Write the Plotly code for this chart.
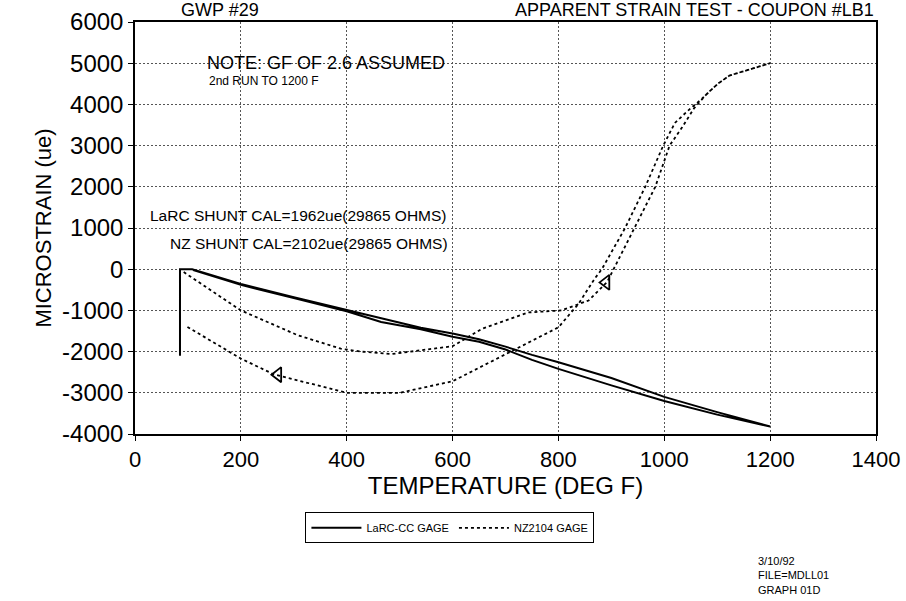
import plotly.graph_objects as go

# LaRC-CC gage: initial offset, heat-up to 1200 F, then cool-down
larc_temp = [85, 85, 108, 200, 300, 400, 465, 540, 600, 650, 700, 750, 800, 900, 1000, 1100, 1200,
             1100, 1000, 900, 800, 750, 700, 650, 600, 540, 465, 400, 300, 200, 110]
larc_strain = [-2100, 0, 0, -360, -680, -990, -1200, -1420, -1560, -1700, -1880, -2080, -2260, -2640, -3100, -3470, -3820,
               -3530, -3200, -2820, -2420, -2200, -1950, -1760, -1640, -1460, -1280, -1020, -700, -380, -20]

# NZ2104 gage: heat-up branch then cool-down branch
nz_temp = [92, 200, 307, 389, 427, 484, 600, 655, 743, 806, 831, 857, 892, 943, 983, 1010, 1034, 1056, 1080, 1101, 1123, 1200,
           1123, 1101, 1072, 1045, 1020, 998, 964, 926, 882, 869, 838, 800, 711, 600, 500, 400, 262, 200, 95]
nz_strain = [-70, -1000, -1600, -1930, -2000, -2060, -1870, -1450, -1050, -1000, -880, -760, -310, 1000, 2000, 3000, 3450, 3900, 4250, 4500, 4700, 5000,
             4700, 4500, 4150, 3850, 3550, 3000, 2000, 1000, 0, -220, -840, -1410, -2000, -2720, -3000, -3000, -2550, -2170, -1370]

# direction arrows on the NZ curve
arrow_temp = [270, 890]
arrow_strain = [-2560, -320]

y_ticks = [-4000, -3000, -2000, -1000, 0, 1000, 2000, 3000, 4000, 5000, 6000]
y_tick_labels = ["-4000", "-3000", "-2000", "-1000", "0", "1000", "2000", "3000", "4000", "5000", "6000"]

notes = [
    ("NOTE: GF OF 2.6 ASSUMED", 132, 5000, 18),
    ("2nd RUN TO 1200 F", 136, 4560, 12),
    ("LaRC SHUNT CAL=1962ue(29865 OHMS)", 25, 1310, 15.5),
    ("NZ SHUNT CAL=2102ue(29865 OHMS)", 62, 630, 15.5),
]

FONT = "Liberation Sans, Arial, sans-serif"

fig = go.Figure()

fig.add_trace(go.Scatter(
    x=larc_temp, y=larc_strain, mode="lines", name="LaRC-CC GAGE",
    line=dict(color="black", width=2),
))
fig.add_trace(go.Scatter(
    x=nz_temp, y=nz_strain, mode="lines", name="NZ2104 GAGE",
    line=dict(color="black", width=1.8, dash="3px,3px"),
))
fig.add_trace(go.Scatter(
    x=arrow_temp, y=arrow_strain, mode="markers", showlegend=False,
    marker=dict(symbol="triangle-left-open", size=13, color="black", line=dict(width=1.8)),
))

for text, x, y, size in notes:
    fig.add_annotation(x=x, y=y, text=text, showarrow=False, xanchor="left",
                       font=dict(size=size, color="black", family=FONT))

fig.add_annotation(x=0.06, y=1.0, xref="paper", yref="paper", yanchor="bottom", xanchor="left",
                   text="GWP #29", showarrow=False, font=dict(size=18, color="black", family=FONT))
fig.add_annotation(x=1.0, y=1.0, xref="paper", yref="paper", yanchor="bottom", xanchor="right",
                   text="APPARENT STRAIN TEST - COUPON #LB1", showarrow=False,
                   font=dict(size=18, color="black", family=FONT))
fig.add_annotation(x=0.838, y=-0.29, xref="paper", yref="paper", xanchor="left", yanchor="top",
                   align="left", showarrow=False,
                   text="3/10/92<br>FILE=MDLL01<br>GRAPH 01D",
                   font=dict(size=11, color="black", family=FONT))

fig.update_layout(
    width=906, height=601,
    paper_bgcolor="white", plot_bgcolor="white",
    margin=dict(l=135, r=30, t=22, b=167),
    font=dict(family=FONT, color="black"),
    showlegend=True,
    legend=dict(orientation="h", x=0.425, xanchor="center", y=-0.19, yanchor="top",
                bordercolor="black", borderwidth=1, font=dict(size=11),
                itemwidth=50, tracegroupgap=0),
)
fig.update_xaxes(
    range=[0, 1400], dtick=200, tickfont=dict(size=22), automargin=False,
    title=dict(text="TEMPERATURE (DEG F)", font=dict(size=24), standoff=6),
    showline=True, linecolor="black", linewidth=1.5, mirror=True,
    ticks="outside", ticklen=5, tickcolor="black",
    showgrid=True, gridcolor="#555", griddash="2px,2px", gridwidth=1, zeroline=False,
)
fig.update_yaxes(
    range=[-4000, 6000], tickvals=y_ticks, ticktext=y_tick_labels,
    tickfont=dict(size=24), automargin=False,
    title=dict(text="MICROSTRAIN (ue)", font=dict(size=22), standoff=4),
    showline=True, linecolor="black", linewidth=1.5, mirror=True,
    ticks="outside", ticklen=5, tickcolor="black",
    showgrid=True, gridcolor="#555", griddash="2px,2px", gridwidth=1, zeroline=False,
)

# drop the default page margin so the figure fills the window exactly
fig.write_html("out.html", config={"displayModeBar": False},
               post_script="document.body.style.margin='0';")
